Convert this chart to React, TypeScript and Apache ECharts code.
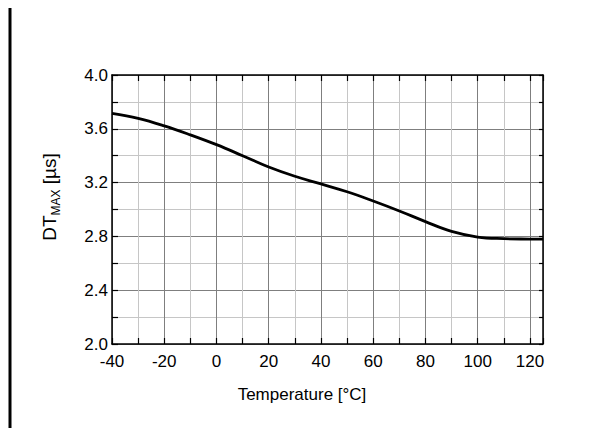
import React, { useEffect, useRef } from "react";
import * as echarts from "echarts";

const temperatures = [-40, -30, -20, -10, 0, 10, 20, 30, 40, 50, 60, 70, 80, 90, 100, 110, 120, 125];
const dtMax = [3.715, 3.678, 3.622, 3.555, 3.482, 3.4, 3.316, 3.247, 3.19, 3.132, 3.063, 2.989, 2.91, 2.837, 2.795, 2.783, 2.78, 2.779];
const xTickLabels = ["-40", "-20", "0", "20", "40", "60", "80", "100", "120"];
const yTickLabels = ["2.0", "2.4", "2.8", "3.2", "3.6", "4.0"];

const FONT = "'Liberation Sans', Arial, Helvetica, sans-serif";
const DARK = "#7f7f7f";
const LIGHT = "#c6c6c6";

export default function App() {
  const ref = useRef<HTMLDivElement>(null);
  useEffect(() => {
    if (!ref.current) return;
    const chart = echarts.init(ref.current, undefined, { renderer: "svg" });
    const xMin = -40, xMax = 125, yMin = 2.0, yMax = 4.0;
    const baseX = { type: "value", min: xMin, max: xMax, scale: true };
    const baseY = { type: "value", min: yMin, max: yMax };
    const frameStyle = { stroke: "#000", lineWidth: 3 };
    chart.setOption({
      animation: false,
      backgroundColor: "#fff",
      grid: { left: 112, top: 75, right: 70, bottom: 92, containLabel: false },
      xAxis: [
        {
          ...baseX,
          position: "bottom",
          interval: 10,
          axisLine: { show: true, onZero: false, lineStyle: { color: "#000", width: 1.5 } },
          axisTick: { show: true, inside: true, length: 6, lineStyle: { color: "#000", width: 1.2 } },
          axisLabel: { show: false },
          splitLine: { show: true, lineStyle: { color: LIGHT, width: 1 } },
        },
        {
          ...baseX,
          position: "bottom",
          interval: 20,
          axisLine: { show: false },
          axisTick: { show: false },
          axisLabel: {
            show: true,
            margin: 9,
            fontSize: 17,
            fontFamily: FONT,
            color: "#000",
            formatter: (v: number) => (xTickLabels.includes(String(v)) ? String(v) : ""),
          },
          splitLine: { show: true, lineStyle: { color: DARK, width: 1 } },
        },
        {
          ...baseX,
          position: "top",
          interval: 10,
          axisLine: { show: true, onZero: false, lineStyle: { color: "#000", width: 1.5 } },
          axisTick: { show: true, inside: true, length: 6, lineStyle: { color: "#000", width: 1.2 } },
          axisLabel: { show: false },
          splitLine: { show: false },
        },
      ],
      yAxis: [
        {
          ...baseY,
          position: "left",
          interval: 0.2,
          axisLine: { show: true, onZero: false, lineStyle: { color: "#000", width: 1.5 } },
          axisTick: { show: true, inside: true, length: 6, lineStyle: { color: "#000", width: 1.2 } },
          axisLabel: { show: false },
          splitLine: { show: true, lineStyle: { color: LIGHT, width: 1 } },
        },
        {
          ...baseY,
          position: "left",
          interval: 0.4,
          axisLine: { show: false },
          axisTick: { show: false },
          axisLabel: {
            show: true,
            margin: 4,
            fontSize: 17,
            fontFamily: FONT,
            color: "#000",
            formatter: (v: number) => {
              const s = v.toFixed(1);
              return yTickLabels.includes(s) ? s : "";
            },
          },
          splitLine: { show: true, lineStyle: { color: DARK, width: 1 } },
        },
        {
          ...baseY,
          position: "right",
          interval: 0.2,
          axisLine: { show: true, onZero: false, lineStyle: { color: "#000", width: 1.5 } },
          axisTick: { show: true, inside: true, length: 4, lineStyle: { color: "#000", width: 1.2 } },
          axisLabel: { show: false },
          splitLine: { show: false },
        },
      ],
      series: [
        {
          type: "line",
          xAxisIndex: 0,
          yAxisIndex: 0,
          data: temperatures.map((t, i) => [t, dtMax[i]]),
          smooth: 0.4,
          symbol: "none",
          lineStyle: { color: "#000", width: 2.8 },
          z: 10,
        },
      ],
      graphic: [
        { type: "line", shape: { x1: 8.5, y1: 5.5, x2: 610, y2: 5.5 }, style: frameStyle, silent: true },
        { type: "line", shape: { x1: 10, y1: 4, x2: 10, y2: 434 }, style: frameStyle, silent: true },
        { type: "line", shape: { x1: 608.5, y1: 4, x2: 608.5, y2: 434 }, style: frameStyle, silent: true },
        { type: "line", shape: { x1: 8.5, y1: 432.5, x2: 610, y2: 432.5 }, style: frameStyle, silent: true },
        {
          type: "text",
          x: 302,
          y: 394,
          style: {
            text: "Temperature [°C]",
            fontSize: 17,
            fontFamily: FONT,
            fill: "#000",
            align: "center",
            verticalAlign: "middle",
          },
        },
        {
          type: "text",
          x: 51,
          y: 197,
          rotation: Math.PI / 2,
          style: {
            text: "{a|DT}{b|MAX}{a| [µs]}",
            align: "center",
            verticalAlign: "middle",
            rich: {
              a: { fontSize: 19, fontFamily: FONT, fill: "#000", lineHeight: 22, verticalAlign: "top" },
              b: { fontSize: 12, fontFamily: FONT, fill: "#000", lineHeight: 15, padding: [10, 0, 0, 0], verticalAlign: "bottom" },
            },
          },
        },
      ],
    });
    return () => chart.dispose();
  }, []);
  return <div ref={ref} style={{ width: 613, height: 436, margin: -8 }} />;
}
